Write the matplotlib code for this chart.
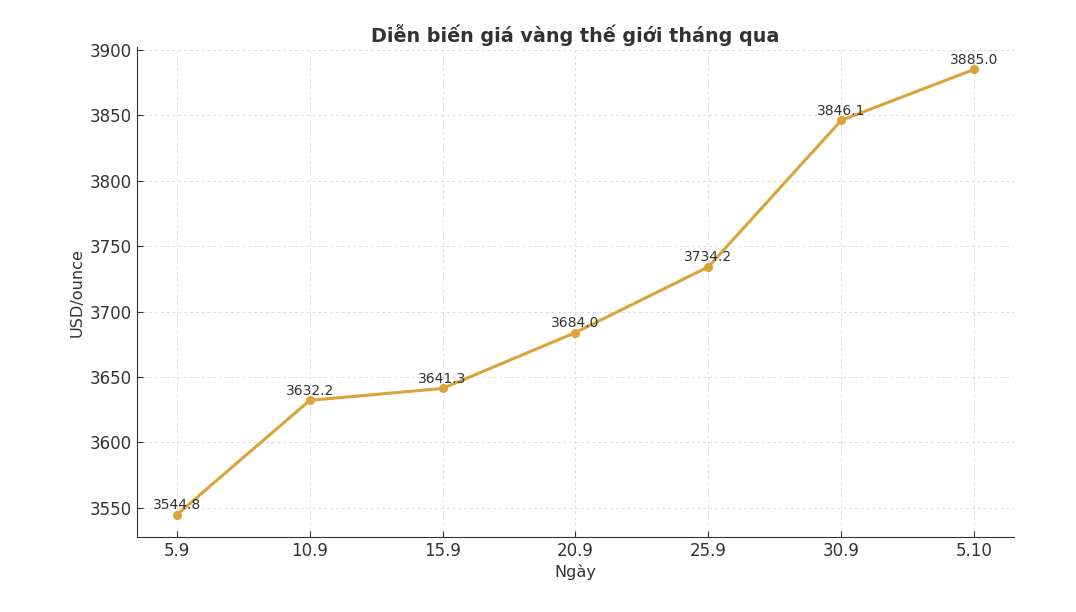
import matplotlib
matplotlib.use('Agg')
import matplotlib.pyplot as plt

# dữ liệu giá vàng
dates = ['5.9', '10.9', '15.9', '20.9', '25.9', '30.9', '5.10']
prices = [3544.8, 3632.2, 3641.3, 3684.0, 3734.2, 3846.1, 3885.0]

plt.rcParams['font.family'] = 'DejaVu Sans'

fig = plt.figure(figsize=(10.76, 6.12), dpi=100)
ax = fig.add_axes([0.1273, 0.1225, 0.8151, 0.8005])

color = '#DBA33A'
x = list(range(len(dates)))
ax.plot(x, prices, color=color, linewidth=2.2, marker='o', markersize=5.5)

for xi, p in zip(x, prices):
    ax.annotate(f'{p:.1f}', (xi, p), textcoords='offset points', xytext=(0, 4),
                ha='center', fontsize=10, color='#333333')

ax.set_xticks(x)
ax.set_xticklabels(dates)
ax.set_title('Diễn biến giá vàng thế giới tháng qua', fontsize=13.8, fontweight='bold',
             color='#333333', pad=4)
ax.set_xlabel('Ngày', fontsize=11.6, color='#333333', labelpad=3)
ax.set_ylabel('USD/ounce', fontsize=11.6, color='#333333')

ax.grid(True, linestyle=(0, (3, 3)), color='#dcdcdc', linewidth=0.7)
ax.set_axisbelow(True)
ax.spines['top'].set_visible(False)
ax.spines['right'].set_visible(False)
ax.spines['left'].set_color('#333333')
ax.spines['bottom'].set_color('#333333')
ax.tick_params(direction='in', labelsize=12, colors='#333333', length=4)

fig.savefig('out.png', dpi=100)
